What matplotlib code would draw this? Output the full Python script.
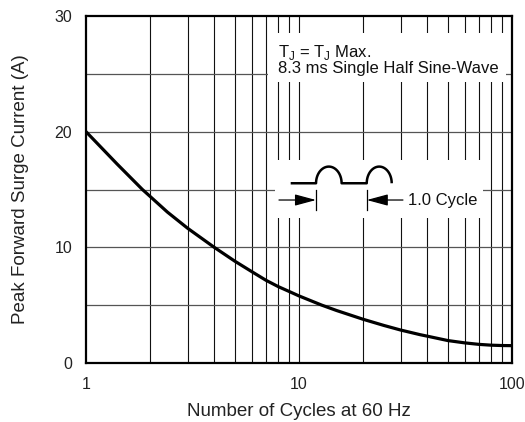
import numpy as np
import matplotlib as mpl
mpl.use('Agg')
import matplotlib.pyplot as plt
from matplotlib.patches import Rectangle

plt.rcParams['font.family'] = ['Liberation Sans', 'DejaVu Sans']

# surge curve
cycles = [1, 1.4, 1.84, 2, 2.41, 3, 4, 5, 6, 7, 8, 9, 10, 12.8, 15, 20, 25, 30, 37, 40,
          50, 60, 70, 80, 90, 100]
current = [20.0, 17.2, 15.0, 14.4, 13.05, 11.65, 10.0, 8.8, 7.9, 7.15, 6.6, 6.18, 5.8, 5.0,
           4.54, 3.78, 3.25, 2.85, 2.45, 2.32, 1.94, 1.74, 1.61, 1.54, 1.51, 1.5]

xticks = [1, 10, 100]
xticklabels = ['1', '10', '100']
yticks = [0, 10, 20, 30]
hlines = [5, 10, 15, 20, 25]
vlines = [2, 3, 4, 5, 6, 7, 8, 9, 10, 20, 30, 40, 50, 60, 70, 80, 90]

fig = plt.figure(figsize=(5.25, 4.22), dpi=100)
ax = fig.add_axes([86/525, 59/422, 426/525, 347/422])

for v in vlines:
    ax.axvline(v, color='#111111', lw=0.8, zorder=1)
for h in hlines:
    ax.axhline(h, color='#555555', lw=0.9, zorder=1)

ax.plot(cycles, current, color='black', lw=2.3, solid_capstyle='butt',
        solid_joinstyle='round', zorder=3)

ax.set_xscale('log')
ax.set_xlim(1, 100)
ax.set_ylim(0, 30)
ax.set_xticks(xticks)
ax.set_xticklabels(xticklabels)
ax.xaxis.set_minor_locator(mpl.ticker.NullLocator())
ax.set_yticks(yticks)
ax.tick_params(length=0, labelsize=11.5, colors='#222222', pad=10)
for s in ax.spines.values():
    s.set_linewidth(1.6)

ax.set_xlabel('Number of Cycles at 60 Hz', fontsize=13.5, color='#222222', labelpad=8)
ax.set_ylabel('Peak Forward Surge Current (A)', fontsize=13.5, color='#222222', labelpad=18)

T = ax.transAxes
# white panels hiding the grid behind the notes
ax.add_patch(Rectangle((0.428, 0.810), 0.557, 0.141, transform=T,
                       facecolor='white', edgecolor='none', zorder=2))
ax.add_patch(Rectangle((0.443, 0.418), 0.490, 0.167, transform=T,
                       facecolor='white', edgecolor='none', zorder=2))

ax.text(0.451, 0.883, r'T$_\mathregular{J}$ = T$_\mathregular{J}$ Max.', transform=T,
        fontsize=12, va='baseline', ha='left', color='#111111', zorder=4)
ax.text(0.451, 0.835, '8.3 ms Single Half Sine-Wave', transform=T,
        fontsize=12, va='baseline', ha='left', color='#111111', zorder=4)

# half sine-wave sketch
base, top = 0.518, 0.566
x0, a1, b1, a2, b2 = 0.4805, 0.540, 0.600, 0.659, 0.7176
t = np.linspace(np.pi, 0, 40)
hx1 = (a1 + b1) / 2 + (b1 - a1) / 2 * np.cos(t)
hx2 = (a2 + b2) / 2 + (b2 - a2) / 2 * np.cos(t)
hy = base + (top - base) * np.sin(t)
wx = np.concatenate([[x0], hx1, hx2])
wy = np.concatenate([[base], hy, hy])
ax.plot(wx, wy, transform=T, color='black', lw=1.8, zorder=4, solid_capstyle='butt')

ax.plot([a1, a1], [0.441, 0.499], transform=T, color='black', lw=0.9, zorder=4)
ax.plot([a2, a2], [0.441, 0.499], transform=T, color='black', lw=0.9, zorder=4)
arrow = dict(arrowstyle='-|>,head_length=1.3,head_width=0.35', color='black', lw=0.9,
             shrinkA=0, shrinkB=0)
ax.annotate('', xy=(a1, 0.4697), xytext=(0.453, 0.4697), xycoords=T, textcoords=T,
            arrowprops=arrow, zorder=4)
ax.annotate('', xy=(a2, 0.4697), xytext=(0.744, 0.4697), xycoords=T, textcoords=T,
            arrowprops=arrow, zorder=4)
ax.text(0.756, 0.4697, '1.0 Cycle', transform=T, fontsize=12, va='center', ha='left',
        color='#111111', zorder=4)

fig.savefig('out.png', dpi=100)
